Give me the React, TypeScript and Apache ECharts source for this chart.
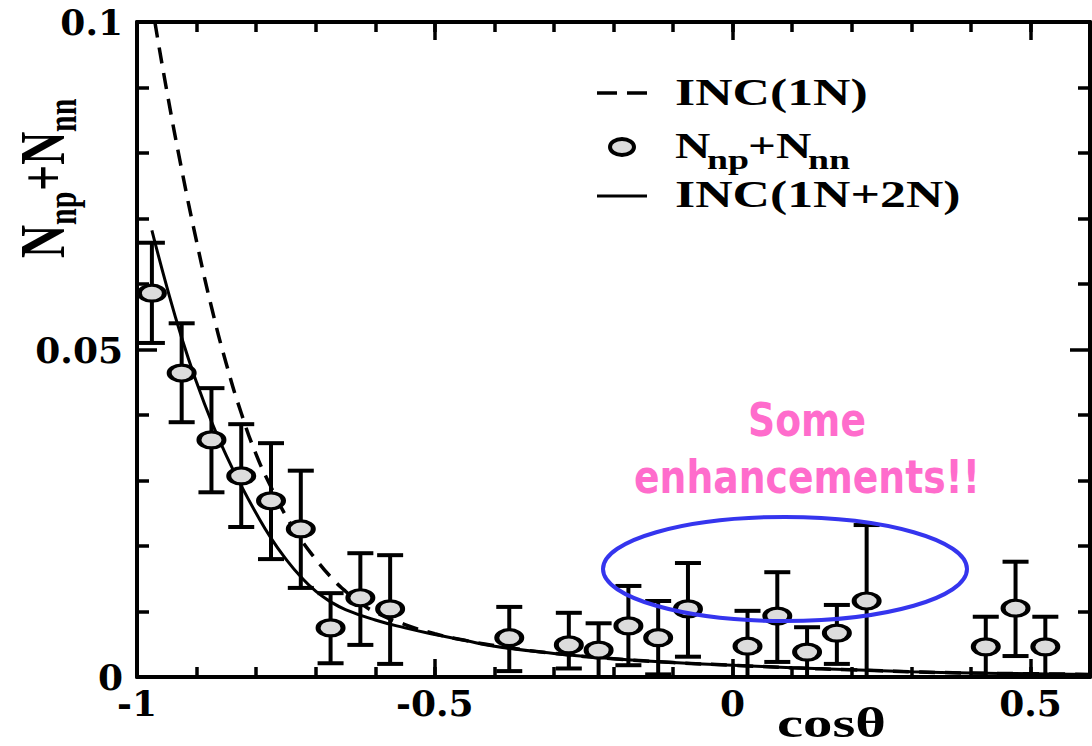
import React, { useEffect, useRef } from "react";
import * as echarts from "echarts";

// ---- tick labels ----
const xTicks = [-1, -0.5, 0, 0.5];
const xTickLabels = ["-1", "-0.5", "0", "0.5"];
const yTicks = [0, 0.05, 0.1];
const yTickLabels = ["0", "0.05", "0.1"];

// ---- data points N_np + N_nn ----
const cosTheta = [-0.975, -0.925, -0.875, -0.825, -0.775, -0.725, -0.675, -0.625, -0.575, -0.375, -0.275, -0.225, -0.175, -0.125, -0.075, 0.025, 0.075, 0.125, 0.175, 0.225, 0.425, 0.475, 0.525];
const nSum = [0.0586, 0.0464, 0.0362, 0.0307, 0.0269, 0.0226, 0.0075, 0.0121, 0.0104, 0.006, 0.0049, 0.0041, 0.0078, 0.006, 0.0104, 0.0047, 0.0093, 0.0038, 0.0067, 0.0116, 0.0046, 0.0105, 0.0046];
const errLow = [0.051, 0.0389, 0.0282, 0.0229, 0.018, 0.0136, 0.0021, 0.0049, 0.002, 0.0009, 0.0013, 0.0, 0.0018, 0.0004, 0.0031, 0.0, 0.0023, 0.0, 0.002, 0.0, 0.0, 0.0032, 0.0];
const errHigh = [0.0663, 0.054, 0.0441, 0.0386, 0.0357, 0.0315, 0.0128, 0.0189, 0.0186, 0.0107, 0.0098, 0.0082, 0.0139, 0.0116, 0.0174, 0.0101, 0.016, 0.0076, 0.011, 0.0232, 0.0092, 0.0176, 0.0092];

// ---- INC(1N) curve (dashed) ----
const inc1NX = [-0.97, -0.95, -0.925, -0.9, -0.875, -0.85, -0.825, -0.8, -0.775, -0.75, -0.725, -0.7, -0.675, -0.65, -0.625, -0.6, -0.55, -0.5, -0.45, -0.4, -0.3, -0.2, -0.1, 0, 0.1, 0.2, 0.3, 0.4, 0.5, 0.6];
const inc1NY = [0.1, 0.0895, 0.0775, 0.0665, 0.0565, 0.0478, 0.0403, 0.034, 0.029, 0.0246, 0.021, 0.018, 0.0153, 0.0131, 0.0113, 0.0099, 0.008, 0.0066, 0.0056, 0.0048, 0.0036, 0.0028, 0.0022, 0.0018, 0.0014, 0.0011, 0.0008, 0.0006, 0.0005, 0.0004];

// ---- INC(1N+2N) curve (solid) ----
const inc12NX = [-0.975, -0.95, -0.925, -0.9, -0.875, -0.85, -0.825, -0.8, -0.775, -0.75, -0.725, -0.7, -0.675, -0.65, -0.6, -0.55, -0.5, -0.45, -0.4, -0.3, -0.2, -0.1, 0, 0.1, 0.2, 0.3, 0.4, 0.5, 0.6];
const inc12NY = [0.0682, 0.0596, 0.0518, 0.045, 0.039, 0.0338, 0.0292, 0.025, 0.0212, 0.018, 0.0153, 0.0131, 0.0115, 0.0103, 0.0087, 0.0075, 0.0065, 0.0056, 0.0047, 0.0036, 0.0028, 0.0022, 0.0018, 0.0014, 0.0011, 0.0008, 0.0006, 0.0005, 0.0004];

const SERIF = '"Liberation Serif", "Times New Roman", serif';
const TICKFONT = '"DejaVu Serif", serif';
const STRETCH = 1.4;

function lookup(ticks: number[], labels: string[], v: number) {
  const i = ticks.findIndex((t) => Math.abs(t - v) < 1e-9);
  return i >= 0 ? labels[i] : "";
}

export default function App() {
  const ref = useRef<HTMLDivElement>(null);

  useEffect(() => {
    if (!ref.current) return;
    const chart = echarts.init(ref.current, undefined, { renderer: "svg" });

    const gridRect = { left: 137, right: 2, top: 22, bottom: 69 };
    const axisLineStyle = { color: "#000", width: 4 };
    const tickLine = { color: "#000", width: 3.5 };

    const majorX = (pos: "bottom" | "top", labels: boolean) => ({
      type: "value",
      gridIndex: 0,
      position: pos,
      min: -1,
      max: 0.6,
      interval: 0.5,
      axisLine: { show: true, onZero: false, lineStyle: axisLineStyle },
      axisTick: { show: true, inside: true, length: 18, lineStyle: tickLine },
      minorTick: { show: false },
      splitLine: { show: false },
      axisLabel: labels
        ? {
            show: true,
            margin: 8,
            color: "#000",
            fontFamily: TICKFONT,
            fontWeight: "bold",
            fontSize: 36,
            lineHeight: 36,
            showMaxLabel: false,
            formatter: (v: number) => lookup(xTicks, xTickLabels, v),
          }
        : { show: false },
    });
    const minorX = (pos: "bottom" | "top") => ({
      type: "value",
      gridIndex: 1,
      position: pos,
      min: -1,
      max: 0.6,
      interval: 0.1,
      axisLine: { show: false, onZero: false },
      axisTick: { show: true, inside: true, length: 10, lineStyle: tickLine },
      splitLine: { show: false },
      axisLabel: { show: false },
    });
    const yAx = (pos: "left" | "right", labels: boolean, gridIndex: number, show = true) => ({
      type: "value",
      gridIndex,
      show,
      position: pos,
      min: 0,
      max: 0.1,
      interval: 0.05,
      axisLine: { show: true, onZero: false, lineStyle: axisLineStyle },
      axisTick: { show: true, inside: true, length: 20, lineStyle: tickLine },
      minorTick: { show: true, splitNumber: 5, length: 12, lineStyle: tickLine },
      splitLine: { show: false },
      axisLabel: labels
        ? {
            show: true,
            margin: 14,
            color: "#000",
            fontFamily: TICKFONT,
            fontWeight: "bold",
            fontSize: 36,
            lineHeight: 36,
            formatter: (v: number) => lookup(yTicks, yTickLabels, v),
          }
        : { show: false },
    });

    const legendText = (text: string, x: number, y: number, size: number) => ({
      type: "text",
      x,
      y,
      scaleX: STRETCH,
      z: 100,
      style: {
        text,
        fill: "#000",
        fontFamily: SERIF,
        fontWeight: "bold",
        fontSize: size,
        align: "left",
        verticalAlign: "middle",
      },
    });

    const option: any = {
      animation: false,
      backgroundColor: "#fff",
      grid: [{ ...gridRect }, { ...gridRect }],
      xAxis: [majorX("bottom", true), majorX("top", false), minorX("bottom"), minorX("top")],
      yAxis: [yAx("left", true, 0), yAx("right", false, 0), yAx("left", false, 1, false)],
      series: [
        {
          name: "errors",
          type: "custom",
          xAxisIndex: 0,
          yAxisIndex: 0,
          z: 3,
          data: cosTheta.map((x, i) => [x, errLow[i], errHigh[i]]),
          encode: { x: 0, y: [1, 2] },
          renderItem: (params: any, api: any) => {
            const x = api.value(0);
            const pLo = api.coord([x, api.value(1)]);
            const pHi = api.coord([x, api.value(2)]);
            const hw = 13;
            const style = { stroke: "#000", lineWidth: 4, fill: "none" };
            return {
              type: "group",
              children: [
                { type: "line", shape: { x1: pLo[0], y1: pLo[1], x2: pHi[0], y2: pHi[1] }, style },
                { type: "line", shape: { x1: pLo[0] - hw, y1: pLo[1], x2: pLo[0] + hw, y2: pLo[1] }, style },
                { type: "line", shape: { x1: pHi[0] - hw, y1: pHi[1], x2: pHi[0] + hw, y2: pHi[1] }, style },
              ],
            };
          },
        },
        {
          name: "INC(1N)",
          type: "line",
          xAxisIndex: 0,
          yAxisIndex: 0,
          z: 2,
          data: inc1NX.map((x, i) => [x, inc1NY[i]]),
          symbol: "none",
          smooth: 0.5,
          lineStyle: { color: "#000", width: 3.5, type: [16, 10] },
        },
        {
          name: "INC(1N+2N)",
          type: "line",
          xAxisIndex: 0,
          yAxisIndex: 0,
          z: 2,
          data: inc12NX.map((x, i) => [x, inc12NY[i]]),
          symbol: "none",
          smooth: 0.5,
          lineStyle: { color: "#000", width: 3 },
        },
        {
          name: "Nnp+Nnn",
          type: "scatter",
          xAxisIndex: 0,
          yAxisIndex: 0,
          z: 5,
          data: cosTheta.map((x, i) => [x, nSum[i]]),
          symbol: "path://M10 0A10 10 0 1 1 10 20A10 10 0 1 1 10 0Z",
          symbolSize: [25, 16],
          itemStyle: { color: "#dcdcdc", borderColor: "#000", borderWidth: 4, opacity: 1 },
        },
      ],
      graphic: [
        // legend
        { type: "line", z: 100, shape: { x1: 597, y1: 93, x2: 647, y2: 93 }, style: { stroke: "#000", lineWidth: 3.5, lineDash: [20, 10] } },
        legendText("INC(1N)", 675, 93, 37),
        { type: "ellipse", z: 100, shape: { cx: 622, cy: 147, rx: 12, ry: 8 }, style: { fill: "#dcdcdc", stroke: "#000", lineWidth: 4 } },
        legendText("N", 675, 146, 35),
        legendText("np", 707, 160, 27),
        legendText("+N", 748, 146, 35),
        legendText("nn", 808, 160, 27),
        { type: "line", z: 100, shape: { x1: 597, y1: 196, x2: 647, y2: 196 }, style: { stroke: "#000", lineWidth: 3 } },
        legendText("INC(1N+2N)", 675, 195, 37),
        // annotation
        {
          type: "text",
          x: 807,
          y: 420,
          scaleX: 0.82,
          z: 100,
          style: { text: "Some", fill: "#ff6ccc", fontFamily: '"DejaVu Sans", sans-serif', fontWeight: "bold", fontSize: 46, align: "center", verticalAlign: "middle" },
        },
        {
          type: "text",
          x: 807,
          y: 477,
          scaleX: 0.82,
          z: 100,
          style: { text: "enhancements!!", fill: "#ff6ccc", fontFamily: '"DejaVu Sans", sans-serif', fontWeight: "bold", fontSize: 46, align: "center", verticalAlign: "middle" },
        },
        { type: "ellipse", z: 100, shape: { cx: 785, cy: 569, rx: 182, ry: 52 }, style: { fill: "none", stroke: "#3535ee", lineWidth: 4 } },
        // x axis title
        {
          type: "text",
          x: 777,
          y: 723,
          scaleX: STRETCH,
          z: 100,
          style: { text: "cosθ", fill: "#000", fontFamily: SERIF, fontWeight: "bold", fontSize: 42, align: "left", verticalAlign: "middle" },
        },
        // y axis title
        {
          type: "group",
          x: 0,
          y: 258,
          rotation: Math.PI / 2,
          scaleY: STRETCH,
          z: 100,
          children: [
            { type: "text", x: 0, y: 30, style: { text: "N", fill: "#000", fontFamily: SERIF, fontWeight: "bold", fontSize: 46, align: "left", verticalAlign: "middle" } },
            { type: "text", x: 33, y: 44, style: { text: "np", fill: "#000", fontFamily: SERIF, fontWeight: "bold", fontSize: 30, align: "left", verticalAlign: "middle" } },
            { type: "text", x: 67, y: 30, style: { text: "+N", fill: "#000", fontFamily: SERIF, fontWeight: "bold", fontSize: 46, align: "left", verticalAlign: "middle" } },
            { type: "text", x: 126, y: 44, style: { text: "nn", fill: "#000", fontFamily: SERIF, fontWeight: "bold", fontSize: 30, align: "left", verticalAlign: "middle" } },
          ],
        },
      ],
    };

    chart.setOption(option);
    return () => chart.dispose();
  }, []);

  return (
    <div
      ref={ref}
      style={{ position: "absolute", left: 0, top: 0, width: 1092, height: 746, background: "#fff" }}
    />
  );
}
